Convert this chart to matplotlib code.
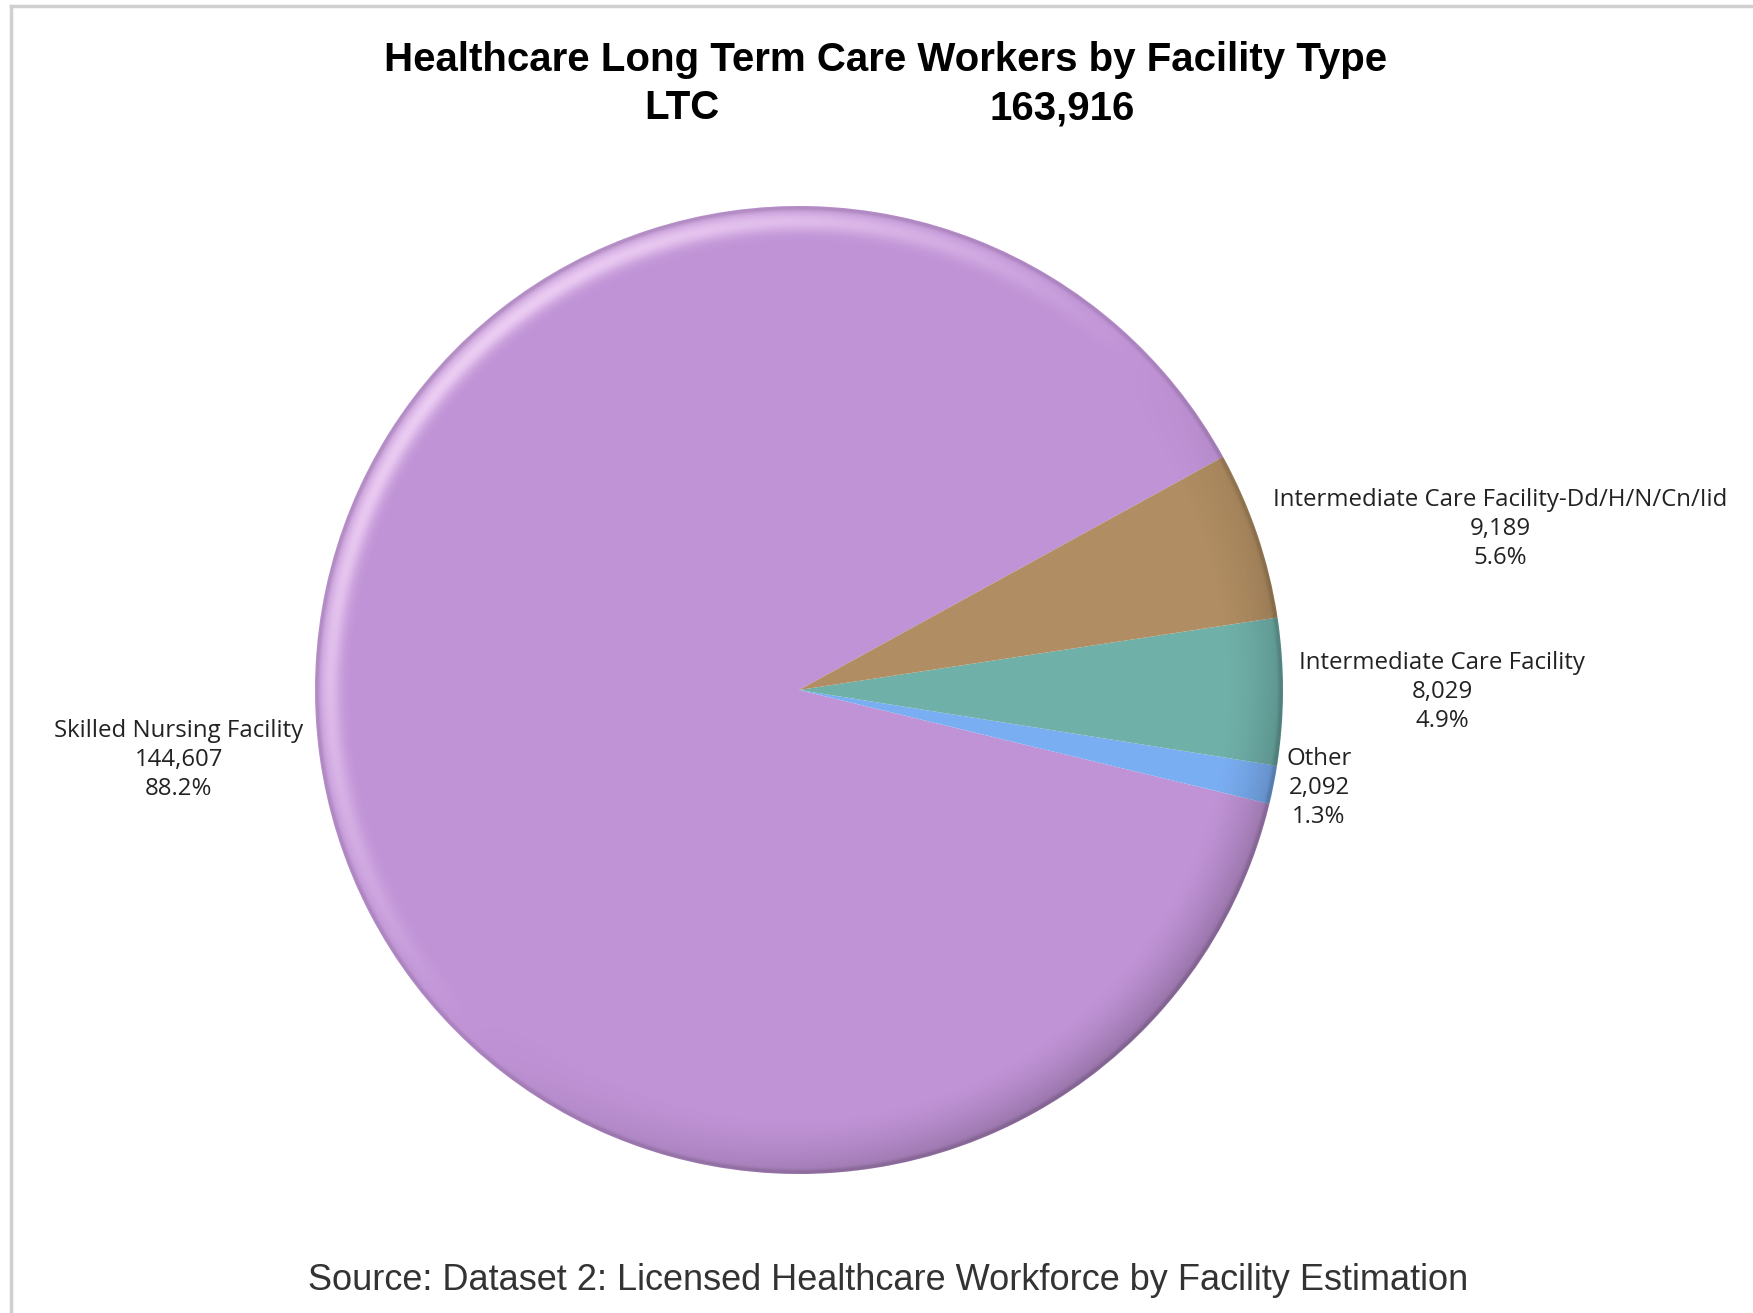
import numpy as np
import matplotlib
matplotlib.use('Agg')
import matplotlib.pyplot as plt
from matplotlib.lines import Line2D
from matplotlib.patches import Circle

# data
facilities = ['Skilled Nursing Facility', 'Other', 'Intermediate Care Facility',
              'Intermediate Care Facility-Dd/H/N/Cn/Iid']
workers = [144607, 2092, 8029, 9189]
total_ltc = 163916
colors = ['#C093D6', '#7AAEF2', '#6FB0A9', '#B08D62']

W, H = 1753, 1313
fig = plt.figure(figsize=(W / 100, H / 100), dpi=100)
fig.patch.set_facecolor('white')

# pie axes, placed in pixels
cx, cy, R = 799, 690, 484
ax = fig.add_axes([(cx - R) / W, (H - cy - R) / H, 2 * R / W, 2 * R / H])
ax.pie(workers, colors=colors, startangle=28.8, counterclock=True,
       radius=1, wedgeprops=dict(linewidth=0))
ax.set_xlim(-1, 1)
ax.set_ylim(-1, 1)
ax.set_aspect('equal')
ax.axis('off')

# rim shading (highlight top-left, shadow bottom-right)
n = 700
g = np.linspace(-1, 1, n)
xx, yy = np.meshgrid(g, g)
rr = np.hypot(xx, yy)
th = np.arctan2(yy, xx)
light = np.clip(np.cos(th - np.deg2rad(135)), 0, None)
dark = np.clip(np.cos(th - np.deg2rad(-45)), 0, None)
band = np.exp(-((rr - 0.97) / 0.022) ** 2)
ramp = np.clip((rr - 0.88) / 0.12, 0, 1) ** 1.5
overlay = np.zeros((n, n, 4))
a_white = 0.7 * light * band
a_black = 0.22 * dark * ramp + 0.12 * np.exp(-((rr - 0.997) / 0.005) ** 2)
alpha = np.clip(a_white + a_black, 0, 1)
shade = np.where(alpha > 0, a_white / np.maximum(alpha, 1e-9), 0)
overlay[..., 0] = shade
overlay[..., 1] = shade * 0.9
overlay[..., 2] = shade
overlay[..., 3] = alpha
im = ax.imshow(overlay, extent=[-1, 1, -1, 1], origin='lower', zorder=5,
               interpolation='bilinear')
im.set_clip_path(Circle((0, 0), 1.0, transform=ax.transData))

# slice labels
pct = [v / sum(workers) * 100 for v in workers]
label_pos = {
    'Skilled Nursing Facility': (179, 760),
    'Other': (1319, 788),
    'Intermediate Care Facility': (1442, 692),
    'Intermediate Care Facility-Dd/H/N/Cn/Iid': (1500, 529),
}
for name, v, p in zip(facilities, workers, pct):
    px, py = label_pos[name]
    fig.text(px / W, 1 - py / H, f'{name}\n{v:,}\n{p:.1f}%',
             ha='center', va='center', fontsize=17.3, family='Open Sans',
             color='#222222', linespacing=1.3)

# titles
fig.text(886 / W, 1 - 60 / H, 'Healthcare Long Term Care Workers by Facility Type',
         ha='center', va='center', fontsize=29, fontweight='bold',
         family='Liberation Sans')
fig.text(682 / W, 1 - 108 / H, 'LTC', ha='center', va='center', fontsize=29,
         fontweight='bold', family='Liberation Sans')
fig.text(1062 / W, 1 - 108 / H, f'{total_ltc:,}', ha='center', va='center',
         fontsize=29, fontweight='bold', family='Liberation Sans')

fig.text(888 / W, 1 - 1281 / H,
         'Source: Dataset 2: Licensed Healthcare Workforce by Facility Estimation',
         ha='center', va='center', fontsize=26, family='Liberation Sans',
         color='#333333')

# frame lines (top and left)
fig.add_artist(Line2D([11 / W, 1], [1 - 6 / H, 1 - 6 / H], color='#D0D0D0',
                      lw=2.5, transform=fig.transFigure))
fig.add_artist(Line2D([11 / W, 11 / W], [0, 1 - 6 / H], color='#D0D0D0',
                      lw=2.5, transform=fig.transFigure))

fig.savefig('out.png', dpi=100)
